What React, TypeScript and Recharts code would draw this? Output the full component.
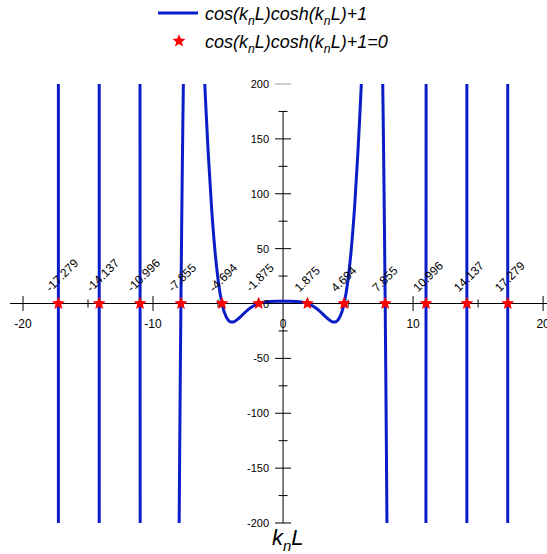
import React from "react";
import { ComposedChart, Line, Scatter, XAxis, YAxis, ReferenceLine } from "recharts";

const BLUE = "#0a1ec8";
const FONT = "'Liberation Sans', Arial, sans-serif";

// f = cos(knL)cosh(knL)+1, every branch clipped at ±200
const midK = [
  -6.021, -5.9, -5.75, -5.5, -5.25, -5, -4.9, -4.75, -4.694, -4.6, -4.5, -4.25, -4.1, -4, -3.9, -3.75, -3.5, -3.25, -3,
  -2.75, -2.5, -2.25, -2, -1.875, -1.75, -1.5, -1.25, -1, -0.5, 0, 0.5, 1, 1.25, 1.5, 1.75, 1.875, 2, 2.25, 2.5, 2.75, 3,
  3.25, 3.5, 3.75, 3.9, 4, 4.1, 4.25, 4.5, 4.6, 4.694, 4.75, 4.9, 5, 5.25, 5.5, 5.75, 5.9, 6.021,
];
const midF = [
  200, 170.3, 136.3, 87.7, 49.8, 22.05, 13.52, 3.17, 0, -4.58, -8.49, -14.65, -16.35, -16.85, -16.94, -16.46, -14.52,
  -11.84, -8.97, -6.26, -3.91, -2.01, -0.57, 0, 0.47, 1.17, 1.6, 1.83, 1.99, 2, 1.99, 1.83, 1.6, 1.17, 0.47, 0, -0.57,
  -2.01, -3.91, -6.26, -8.97, -11.84, -14.52, -16.46, -16.94, -16.85, -16.35, -14.65, -8.49, -4.58, 0, 3.17, 13.52, 22.05,
  49.8, 87.7, 136.3, 170.3, 200,
];
const negK7 = [-7.9905, -7.95, -7.9, -7.855, -7.8, -7.75, -7.7, -7.6665];
const negF7 = [-200, -134.9, -61, 0, 66.85, 121.5, 170.4, 200];
const posK7 = [7.6665, 7.7, 7.75, 7.8, 7.855, 7.9, 7.95, 7.9905];
const posF7 = [200, 170.4, 121.5, 66.85, 0, -61, -134.9, -200];
const negK11 = [-11.0022, -10.9955, -10.9888];
const negF11 = [200, 0, -200];
const posK11 = [10.9888, 10.9955, 11.0022];
const posF11 = [-200, 0, 200];
const negK14 = [-14.1375, -14.1372, -14.1369];
const negF14 = [-200, 0, 200];
const posK14 = [14.1369, 14.1372, 14.1375];
const posF14 = [200, 0, -200];
const negK17 = [-17.27882, -17.2788, -17.27878];
const negF17 = [200, 0, -200];
const posK17 = [17.27878, 17.2788, 17.27882];
const posF17 = [-200, 0, 200];

const roots = [-17.279, -14.137, -10.996, -7.855, -4.694, -1.875, 1.875, 4.694, 7.855, 10.996, 14.137, 17.279];

const xMajor = [-20, -10, 10, 20];
const xMinor = [-15, -5, 5, 15];
const xLabels = [-20, -10, 0, 10, 20];
const yMajor = [-200, -150, -100, -50, 50, 100, 150];
const yMinor = [-175, -125, -75, -25, 25, 75, 125, 175];
const yLabels = [-200, -150, -100, -50, 0, 50, 100, 150, 200];

const zip = (k: number[], f: number[]) => k.map((x, i) => ({ x, y: f[i] }));

const branches = [
  zip(negK17, negF17),
  zip(negK14, negF14),
  zip(negK11, negF11),
  zip(negK7, negF7),
  zip(midK, midF),
  zip(posK7, posF7),
  zip(posK11, posF11),
  zip(posK14, posF14),
  zip(posK17, posF17),
];

function starPoints(cx: number, cy: number, R: number, r: number) {
  const pts: string[] = [];
  for (let i = 0; i < 10; i++) {
    const a = (-90 + i * 36) * (Math.PI / 180);
    const rad = i % 2 === 0 ? R : r;
    pts.push(`${cx + rad * Math.cos(a)},${cy + rad * Math.sin(a)}`);
  }
  return pts.join(" ");
}

const RootMark = (p: any) => {
  const { cx, cy, payload } = p;
  const tx = cx - 8;
  const ty = cy - 11;
  return (
    <g>
      <text x={tx} y={ty} fontSize={12} fontFamily={FONT} fill="#000" transform={`rotate(-45 ${tx} ${ty})`}>
        {payload.x.toFixed(3)}
      </text>
      <polygon points={starPoints(cx, cy, 6.8, 3)} fill="#ff0000" />
    </g>
  );
};

const XTick = (p: any) => {
  const { cx, cy, payload } = p;
  const h = payload.major ? 7.5 : 4;
  return <line x1={cx} x2={cx} y1={cy - h} y2={cy + h} stroke="#000" strokeWidth={1} />;
};

const YTick = (p: any) => {
  const { cx, cy, payload } = p;
  const w = payload.major ? 8 : 4.5;
  return <line x1={cx - w} x2={cx + w} y1={cy} y2={cy} stroke={payload.gray ? "#9a9a9a" : "#000"} strokeWidth={1} />;
};

const XLabel = (p: any) => {
  const { cx, cy, payload } = p;
  return (
    <text x={cx} y={cy + 24} textAnchor="middle" fontSize={12} fontFamily={FONT} fill="#000">
      {payload.x}
    </text>
  );
};

const YLabel = (p: any) => {
  const { cx, cy, payload } = p;
  return (
    <text x={cx - 14} y={cy + 4} textAnchor="end" fontSize={11} fontFamily={FONT} fill="#000">
      {payload.y}
    </text>
  );
};

// italic formula text with a lowered "n" subscript
const Formula = ({ x, y, size, tail }: { x: number; y: number; size: number; tail: string }) => {
  const sub = size * 0.68;
  const d = size * 0.28;
  return (
    <text x={x} y={y} fontSize={size} fontStyle="italic" fontFamily={FONT} fill="#000">
      cos(k<tspan fontSize={sub} dy={d}>n</tspan>
      <tspan dy={-d}>L)cosh(k</tspan>
      <tspan fontSize={sub} dy={d}>n</tspan>
      <tspan dy={-d}>{"L)+1" + tail}</tspan>
    </text>
  );
};

export default function App() {
  const xTickData = [...xMajor.map((x) => ({ x, y: 0, major: true })), ...xMinor.map((x) => ({ x, y: 0, major: false }))];
  const yTickData = [
    ...yMajor.map((y) => ({ x: 0, y, major: true })),
    ...yMinor.map((y) => ({ x: 0, y, major: false })),
    { x: 0, y: 200, major: true, gray: true },
  ];
  const rootData = roots.map((x) => ({ x, y: 0 }));

  return (
    <div style={{ position: "absolute", left: 0, top: 0, width: 547, height: 554, background: "#fff" }}>
      <ComposedChart width={547} height={554} margin={{ top: 84, right: 0, bottom: 31, left: 10 }}>
        <XAxis type="number" dataKey="x" domain={[-21, 20.3]} hide />
        <YAxis type="number" dataKey="y" domain={[-200, 200]} hide />
        <ReferenceLine y={0} stroke="#000" strokeWidth={1} />
        <ReferenceLine segment={[{ x: 0, y: -200 }, { x: 0, y: 175 }]} stroke="#000" strokeWidth={1} />
        <Scatter data={xTickData} shape={XTick} isAnimationActive={false} />
        <Scatter data={yTickData} shape={YTick} isAnimationActive={false} />
        <Scatter data={xLabels.map((x) => ({ x, y: 0 }))} shape={XLabel} isAnimationActive={false} />
        <Scatter data={yLabels.map((y) => ({ x: 0, y }))} shape={YLabel} isAnimationActive={false} />
        {branches.map((b, i) => (
          <Line
            key={i}
            data={b}
            dataKey="y"
            type="monotone"
            stroke={BLUE}
            strokeWidth={3}
            dot={false}
            activeDot={false}
            isAnimationActive={false}
          />
        ))}
        <Scatter data={rootData} shape={RootMark} isAnimationActive={false} />
      </ComposedChart>

      <svg style={{ position: "absolute", left: 0, top: 0 }} width={547} height={554} pointerEvents="none">
        <line x1={158} x2={198} y1={13} y2={13} stroke={BLUE} strokeWidth={3} />
        <Formula x={205} y={20} size={18} tail="" />
        <polygon points={starPoints(179, 41, 6.8, 3)} fill="#ff0000" />
        <Formula x={205} y={48} size={18} tail="=0" />
        <text x={272} y={545} fontSize={22} fontStyle="italic" fontFamily={FONT} fill="#000">
          k<tspan fontSize={15} dy={6}>n</tspan>
          <tspan dy={-6}>L</tspan>
        </text>
      </svg>
    </div>
  );
}
